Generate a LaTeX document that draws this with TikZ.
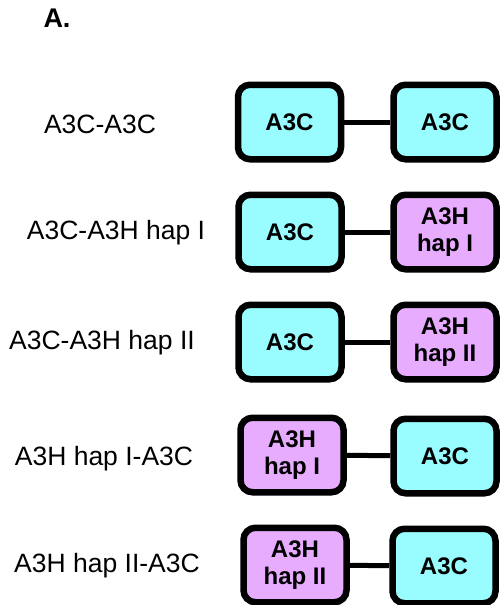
\documentclass[tikz,border=0pt]{standalone}
\usepackage{fontspec}
\setmainfont{Liberation Sans}
\usetikzlibrary{positioning}
\definecolor{cbox}{RGB}{153,252,255}
\definecolor{hbox}{RGB}{232,172,255}
\begin{document}
\begin{tikzpicture}[x=1pt,y=-1pt,lbl/.style={inner sep=0pt, font=\fontsize{26.5}{30}\selectfont},
  dom/.style={draw, line width=6.5pt, rounded corners=12pt, minimum width=103pt, minimum height=74.5pt, align=center, inner sep=0pt, font=\fontsize{24}{27}\selectfont\bfseries}]
\tikzstyle{c}=[dom, fill=cbox]
\tikzstyle{h}=[dom, fill=hbox]
\useasboundingbox (0,0) rectangle (499,605);
\node[lbl, font=\fontsize{27}{30}\selectfont\bfseries] (panel) at (57,18) {A.};
% labels
\node[lbl] (t1) at (100,124) {A3C-A3C};
\node[lbl] (t2) at (116,233) {A3C-A3H hap I};
\node[lbl] (t3) at (102,343) {A3C-A3H hap II};
\node[lbl] (t4) at (104,459) {A3H hap I-A3C};
\node[lbl] (t5) at (107,566) {A3H hap II-A3C};
% domains
\node[c] (a1) at (289.5,122) {A3C};
\node[c] (b1) at (445,122) {A3C};
\node[c] (a2) at (290,232) {A3C};
\node[h] (b2) at (445,232) {A3H\\hap I};
\node[c] (a3) at (290,342) {A3C};
\node[h] (b3) at (445,342) {A3H\\hap II};
\node[h] (a4) at (292,455) {A3H\\hap I};
\node[c] (b4) at (445,456) {A3C};
\node[h] (a5) at (295,565) {A3H\\hap II};
\node[c] (b5) at (444,566) {A3C};
\foreach \i/\j in {a1/b1,a2/b2,a3/b3,a4/b4,a5/b5}{\draw[line width=5pt] (\i) -- (\j);}
\end{tikzpicture}
\end{document}
